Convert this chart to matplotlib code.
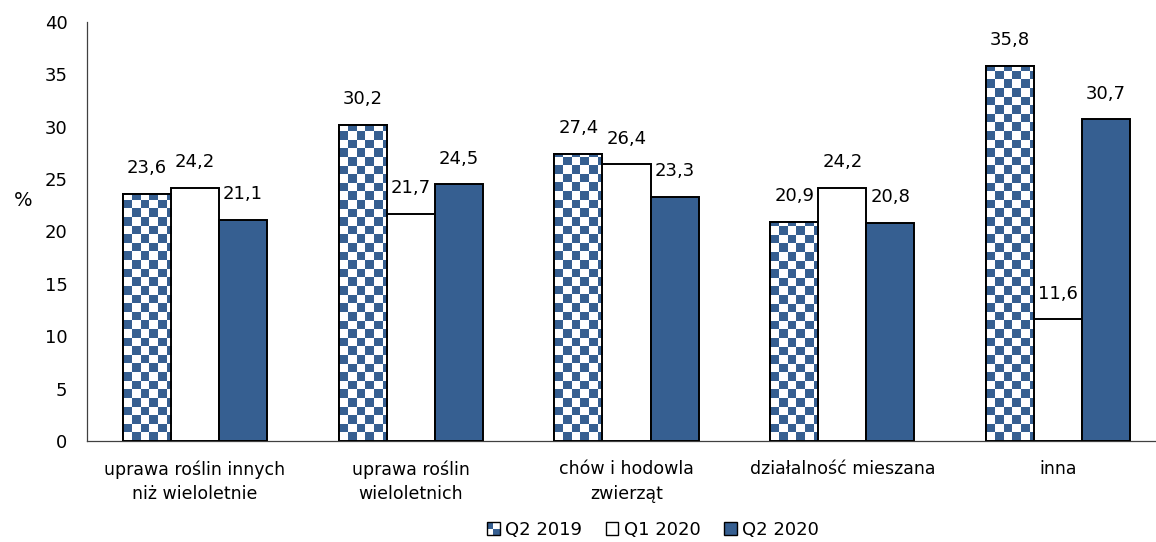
import math
import numpy as np
import matplotlib
matplotlib.use("Agg")
import matplotlib.pyplot as plt
from matplotlib.colors import ListedColormap
from matplotlib.patches import Patch, Rectangle
from matplotlib.legend_handler import HandlerBase

categories = ["uprawa roślin innych\nniż wieloletnie", "uprawa roślin\nwieloletnich",
              "chów i hodowla\nzwierząt", "działalność mieszana", "inna"]
series_names = ["Q2 2019", "Q1 2020", "Q2 2020"]
q2_2019 = [23.6, 30.2, 27.4, 20.9, 35.8]
q1_2020 = [24.2, 21.7, 26.4, 24.2, 11.6]
q2_2020 = [21.1, 24.5, 23.3, 20.8, 30.7]

BLUE = "#365F91"
FONT = "DejaVu Sans"
plt.rcParams["font.family"] = FONT


class CheckerHandler(HandlerBase):
    def create_artists(self, legend, orig_handle, xdescent, ydescent, width, height, fontsize, trans):
        side = min(width, height)
        x0 = -xdescent + (width - side) / 2
        y0 = -ydescent + (height - side) / 2
        half = side / 2
        arts = []
        for i in range(2):
            for j in range(2):
                c = BLUE if (i + j) % 2 == 1 else "white"
                arts.append(Rectangle((x0 + i * half, y0 + j * half), half, half,
                                      facecolor=c, edgecolor="none", transform=trans))
        arts.append(Rectangle((x0, y0), side, side, fill=False, edgecolor="black",
                              lw=1.0, transform=trans))
        return arts


fig = plt.figure(figsize=(11.56, 5.42), dpi=100)
ax = fig.add_axes([87 / 1156, 101 / 542, (1166 - 87) / 1156, 419 / 542])

x = np.arange(len(categories))
w = 0.2225
ylim = (0, 40)
xlim = (-0.5, len(categories) - 0.5)

b1 = ax.bar(x - w, q2_2019, w, facecolor="white", edgecolor="black", linewidth=1.4, zorder=3)
b2 = ax.bar(x, q1_2020, w, facecolor="white", edgecolor="black", linewidth=1.4, zorder=3)
b3 = ax.bar(x + w, q2_2020, w, facecolor=BLUE, edgecolor="black", linewidth=1.4, zorder=3)

# checkerboard fill for Q2 2019 bars
cw, ch = 0.0399, 0.82
cmap = ListedColormap(["white", BLUE])
for bar in b1:
    x0, bw, bh = bar.get_x(), bar.get_width(), bar.get_height()
    nx, ny = math.ceil(bw / cw), math.ceil(bh / ch)
    arr = np.indices((ny, nx)).sum(axis=0) % 2
    im = ax.imshow(arr, extent=(x0, x0 + nx * cw, 0, ny * ch), origin="lower",
                   cmap=cmap, interpolation="nearest", aspect="auto", zorder=3.5)
    im.set_clip_path(bar)
    outline = Rectangle((x0, 0), bw, bh, fill=False, edgecolor="black", linewidth=1.4, zorder=4)
    ax.add_patch(outline)

for bars, vals in [(b1, q2_2019), (b2, q1_2020), (b3, q2_2020)]:
    for bar, v in zip(bars, vals):
        ax.annotate(f"{v:.1f}".replace(".", ","), (bar.get_x() + bar.get_width() / 2, v),
                    xytext=(0, 12), textcoords="offset points", ha="center", va="bottom",
                    fontsize=13, color="black")

ax.set_xlim(*xlim)
ax.set_ylim(*ylim)
ax.set_yticks(range(0, 41, 5))
ax.tick_params(axis="y", length=0, pad=14, labelsize=13)
ax.tick_params(axis="x", length=0, pad=14, labelsize=12.5)
ax.set_xticks(x)
ax.set_xticklabels(categories, linespacing=1.45)
ax.set_ylabel("%", rotation=0, fontsize=14, va="center", ha="center")
ax.yaxis.set_label_coords(-0.059, 0.575)

for s in ["top", "right"]:
    ax.spines[s].set_visible(False)
ax.spines["left"].set_color("#404040")
ax.spines["bottom"].set_color("#404040")
ax.spines["left"].set_linewidth(0.9)
ax.spines["bottom"].set_linewidth(0.9)

handles = [Patch(facecolor=BLUE), Patch(facecolor="white", edgecolor="black", linewidth=1.0),
           Patch(facecolor=BLUE, edgecolor="black", linewidth=1.0)]
fig.legend(handles, series_names, loc="center", bbox_to_anchor=(653 / 1156, 1 - 530 / 542),
           ncol=3, frameon=False, fontsize=13, handlelength=0.7, handleheight=0.7,
           handletextpad=0.3, columnspacing=1.3, handler_map={handles[0]: CheckerHandler()})

fig.savefig("out.png", dpi=100)
